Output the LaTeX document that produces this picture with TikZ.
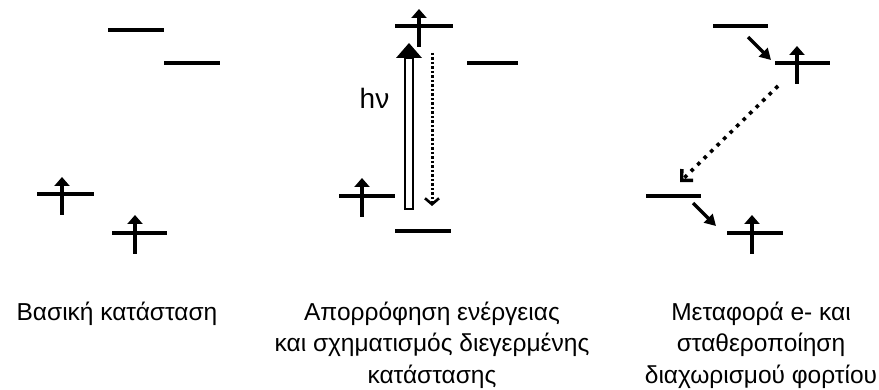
\documentclass[tikz,border=0pt]{standalone}
\usepackage{fontspec}
\setmainfont{Liberation Sans}
\usetikzlibrary{arrows.meta}
\begin{document}
\begin{tikzpicture}[x=1pt,y=-1pt,
  level/.style={line width=3.3pt},
  spin/.style={line width=3.3pt,-{Triangle[width=15pt,length=9pt]}},
  hop/.style={line width=3.3pt,-{Triangle[width=12pt,length=11pt]}},
  relax/.style={line width=3pt,dash pattern=on 2.5pt off 2pt,
    -{Straight Barb[width=14pt,length=6pt,line width=2.6pt]}},
  transfer/.style={line width=3.6pt,dash pattern=on 3.6pt off 5.5pt,
    -{Straight Barb[width=16pt,length=8pt,line width=3.4pt]}},
  caption/.style={align=center,anchor=base,inner sep=0pt,
    font=\fontsize{24.5}{31.5}\selectfont},
]
\useasboundingbox (0,0) rectangle (879,390);

% ---------- Panel 1: ground state ----------
\coordinate (p1aL) at (108,30);  \coordinate (p1aR) at (164,30);
\coordinate (p1bL) at (164,63);  \coordinate (p1bR) at (220,63);
\coordinate (p1cL) at (37,194);  \coordinate (p1cR) at (94,194);
\coordinate (p1dL) at (112,233); \coordinate (p1dR) at (167,233);
\coordinate (p1cs) at (62,215);  \coordinate (p1ct) at (62,177);
\coordinate (p1ds) at (135,254); \coordinate (p1dt) at (135,215);
\draw[level] (p1aL) -- (p1aR);
\draw[level] (p1bL) -- (p1bR);
\draw[level] (p1cL) -- (p1cR);
\draw[level] (p1dL) -- (p1dR);
\draw[spin] (p1cs) -- (p1ct);
\draw[spin] (p1ds) -- (p1dt);

% ---------- Panel 2: absorption ----------
\coordinate (p2aL) at (395,26);  \coordinate (p2aR) at (453,26);
\coordinate (p2bL) at (467,63);  \coordinate (p2bR) at (518,63);
\coordinate (p2cL) at (339,196); \coordinate (p2cR) at (395,196);
\coordinate (p2dL) at (395,231); \coordinate (p2dR) at (451,231);
\coordinate (p2as) at (419,47);  \coordinate (p2at) at (419,9);
\coordinate (p2cs) at (362,217); \coordinate (p2ct) at (362,178);
\draw[level] (p2aL) -- (p2aR);
\draw[level] (p2bL) -- (p2bR);
\draw[level] (p2cL) -- (p2cR);
\draw[level] (p2dL) -- (p2dR);
\draw[spin] (p2as) -- (p2at);
\draw[spin] (p2cs) -- (p2ct);
% hollow excitation arrow
\coordinate (hvB1) at (405,209); \coordinate (hvB2) at (413,58);
\coordinate (hvH1) at (396,58);  \coordinate (hvTip) at (409,43); \coordinate (hvH2) at (422,58);
\draw[line width=1.8pt,fill=white] (hvB1) rectangle (hvB2);
\fill (hvH1) -- (hvTip) -- (hvH2) -- cycle;
\node[font=\fontsize{28}{30}\selectfont,anchor=base,inner sep=0pt] (hv) at (374.5,109) {hν};
% relaxation
\coordinate (rlS) at (432,53); \coordinate (rlE) at (432,206);
\draw[relax] (rlS) -- (rlE);

% ---------- Panel 3: charge transfer ----------
\coordinate (p3aL) at (713,26);  \coordinate (p3aR) at (768,26);
\coordinate (p3bL) at (775,63);  \coordinate (p3bR) at (830,63);
\coordinate (p3cL) at (646,196); \coordinate (p3cR) at (701,196);
\coordinate (p3dL) at (727,233); \coordinate (p3dR) at (783,233);
\coordinate (p3bs) at (797,84);  \coordinate (p3bt) at (797,46);
\coordinate (p3ds) at (752,254); \coordinate (p3dt) at (752,215);
\draw[level] (p3aL) -- (p3aR);
\draw[level] (p3bL) -- (p3bR);
\draw[level] (p3cL) -- (p3cR);
\draw[level] (p3dL) -- (p3dR);
\draw[spin] (p3bs) -- (p3bt);
\draw[spin] (p3ds) -- (p3dt);
\coordinate (h1s) at (748,37);  \coordinate (h1e) at (771,60);
\coordinate (h2s) at (693,203); \coordinate (h2e) at (716,226);
\draw[hop] (h1s) -- (h1e);
\draw[hop] (h2s) -- (h2e);
\coordinate (trS) at (778,86); \coordinate (trE) at (680,182);
\draw[transfer] (trS) -- (trE);

% ---------- Captions ----------
\node[caption] (c1) at (117,320) {Βασική κατάσταση};
\node[caption] (c2) at (432,383) {Απορρόφηση ενέργειας\\και σχηματισμός διεγερμένης\\κατάστασης};
\node[caption] (c3) at (761,383) {Μεταφορά e- και\\σταθεροποίηση\\διαχωρισμού φορτίου};
\end{tikzpicture}
\end{document}
